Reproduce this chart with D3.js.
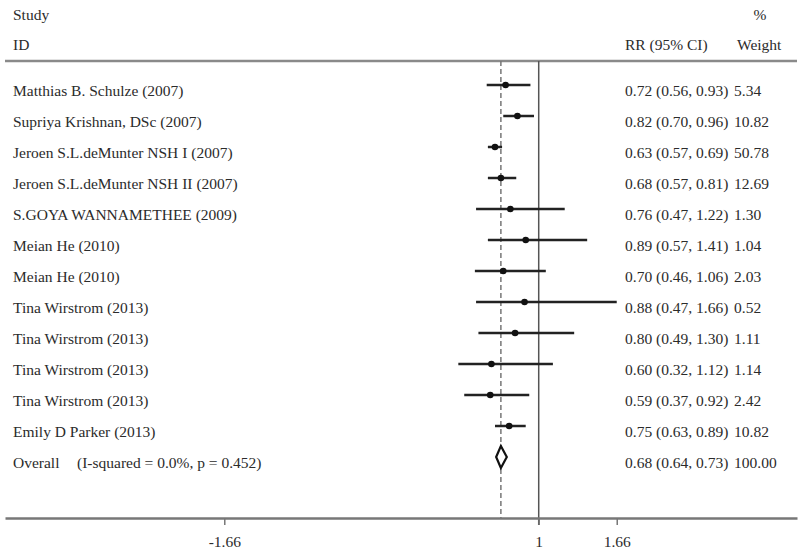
<!DOCTYPE html>
<html>
<head>
<meta charset="utf-8">
<script src="https://cdn.jsdelivr.net/npm/d3@7"></script>
<style>
  body { margin: 0; background: #fff; }
  svg { display: block; }
  text { font-family: 'Liberation Serif', 'DejaVu Serif', serif; fill: #2b2b2b; }
</style>
</head>
<body>
<svg></svg>
<script>
const studies = [
  'Matthias B. Schulze (2007)',
  'Supriya Krishnan, DSc (2007)',
  'Jeroen S.L.deMunter NSH I (2007)',
  'Jeroen S.L.deMunter NSH II (2007)',
  'S.GOYA WANNAMETHEE (2009)',
  'Meian He (2010)',
  'Meian He (2010)',
  'Tina Wirstrom (2013)',
  'Tina Wirstrom (2013)',
  'Tina Wirstrom (2013)',
  'Tina Wirstrom (2013)',
  'Emily D Parker (2013)',
];
const rr   = [0.72, 0.82, 0.63, 0.68, 0.76, 0.89, 0.70, 0.88, 0.80, 0.60, 0.59, 0.75];
const lo   = [0.56, 0.70, 0.57, 0.57, 0.47, 0.57, 0.46, 0.47, 0.49, 0.32, 0.37, 0.63];
const hi   = [0.93, 0.96, 0.69, 0.81, 1.22, 1.41, 1.06, 1.66, 1.30, 1.12, 0.92, 0.89];
const weights = ['5.34', '10.82', '50.78', '12.69', '1.30', '1.04', '2.03', '0.52', '1.11', '1.14', '2.42', '10.82'];

const overall = {rr: 0.68, lo: 0.64, hi: 0.73, weight: '100.00'};
const overallLabel = ['Overall', '(I-squared = 0.0%, p = 0.452)'];

const tickValues = [-1.66, 1, 1.66];
const tickLabels = ['-1.66', '1', '1.66'];

const [width, height] = [800, 555];
const fs = 15.5;
const fmt = d3.format('.2f');

const svg = d3.select('svg')
  .attr('width', width)
  .attr('height', height);

// linear scale, line at 1 sits near x=539
const x = d3.scaleLinear()
  .domain([-3.515, 3.185])
  .range([5, 797]);

const rows = d3.range(studies.length + 1);
const y = d3.scalePoint()
  .domain(rows)
  .range([85, 457]);

const topY = 61, axisY = 518;
const textDy = 6;

function label(x0, y0, s, anchor) {
  return svg.append('text')
    .attr('x', x0).attr('y', y0).attr('dy', '0.35em')
    .attr('text-anchor', anchor || 'start')
    .attr('font-size', fs)
    .text(s);
}

// header
label(13, 15, 'Study');
label(13, 45, 'ID');
label(760, 15, '%', 'middle');
label(625, 45, 'RR (95% CI)');
label(737, 45, 'Weight');

svg.append('line')
  .attr('x1', 5).attr('x2', 797)
  .attr('y1', topY).attr('y2', topY)
  .attr('stroke', '#8a8a8a').attr('stroke-width', 2.5);

// reference lines
svg.append('line')
  .attr('x1', x(1)).attr('x2', x(1))
  .attr('y1', topY).attr('y2', axisY + 7)
  .attr('stroke', '#555').attr('stroke-width', 1.5);

svg.append('line')
  .attr('x1', x(overall.rr)).attr('x2', x(overall.rr))
  .attr('y1', topY).attr('y2', axisY)
  .attr('stroke', '#777').attr('stroke-width', 1.5)
  .attr('stroke-dasharray', '5,3');

// study rows
const data = studies.map((s, i) => ({
  study: s, rr: rr[i], lo: lo[i], hi: hi[i], weight: weights[i], i
}));

const g = svg.append('g').selectAll('g').data(data).join('g');

g.append('line')
  .attr('x1', d => x(d.lo)).attr('x2', d => x(d.hi))
  .attr('y1', d => y(d.i)).attr('y2', d => y(d.i))
  .attr('stroke', '#222').attr('stroke-width', 2.5);

g.append('circle')
  .attr('cx', d => x(d.rr))
  .attr('cy', d => y(d.i))
  .attr('r', 3.3)
  .attr('fill', '#111');

g.append('text')
  .attr('x', 13).attr('y', d => y(d.i) + textDy).attr('dy', '0.35em')
  .attr('font-size', fs)
  .text(d => d.study);

g.append('text')
  .attr('x', 625).attr('y', d => y(d.i) + textDy).attr('dy', '0.35em')
  .attr('font-size', fs)
  .text(d => `${fmt(d.rr)} (${fmt(d.lo)}, ${fmt(d.hi)})`);

g.append('text')
  .attr('x', 734).attr('y', d => y(d.i) + textDy).attr('dy', '0.35em')
  .attr('font-size', fs)
  .text(d => d.weight);

// overall row
const oy = y(studies.length);
svg.append('path')
  .attr('d', `M${x(overall.lo)},${oy}L${x(overall.rr)},${oy - 11}L${x(overall.hi)},${oy}L${x(overall.rr)},${oy + 11}Z`)
  .attr('fill', '#fff').attr('stroke', '#111').attr('stroke-width', 2.2);

label(13, oy + textDy, overallLabel[0]);
label(77, oy + textDy, overallLabel[1]);
label(625, oy + textDy, `${fmt(overall.rr)} (${fmt(overall.lo)}, ${fmt(overall.hi)})`);
label(734, oy + textDy, overall.weight);

// x axis
const xAxis = d3.axisBottom(x)
  .tickValues(tickValues)
  .tickFormat((d, i) => tickLabels[i])
  .tickSize(7)
  .tickSizeOuter(0)
  .tickPadding(11);

const ax = svg.append('g')
  .attr('transform', `translate(0,${axisY})`)
  .call(xAxis);

ax.select('.domain').attr('stroke', '#777').attr('stroke-width', 2.5);
ax.selectAll('.tick line').attr('stroke', '#777').attr('stroke-width', 1.5);
ax.selectAll('.tick text')
  .attr('font-family', "'Liberation Serif', 'DejaVu Serif', serif")
  .attr('font-size', fs)
  .attr('fill', '#2b2b2b');
</script>
</body>
</html>
